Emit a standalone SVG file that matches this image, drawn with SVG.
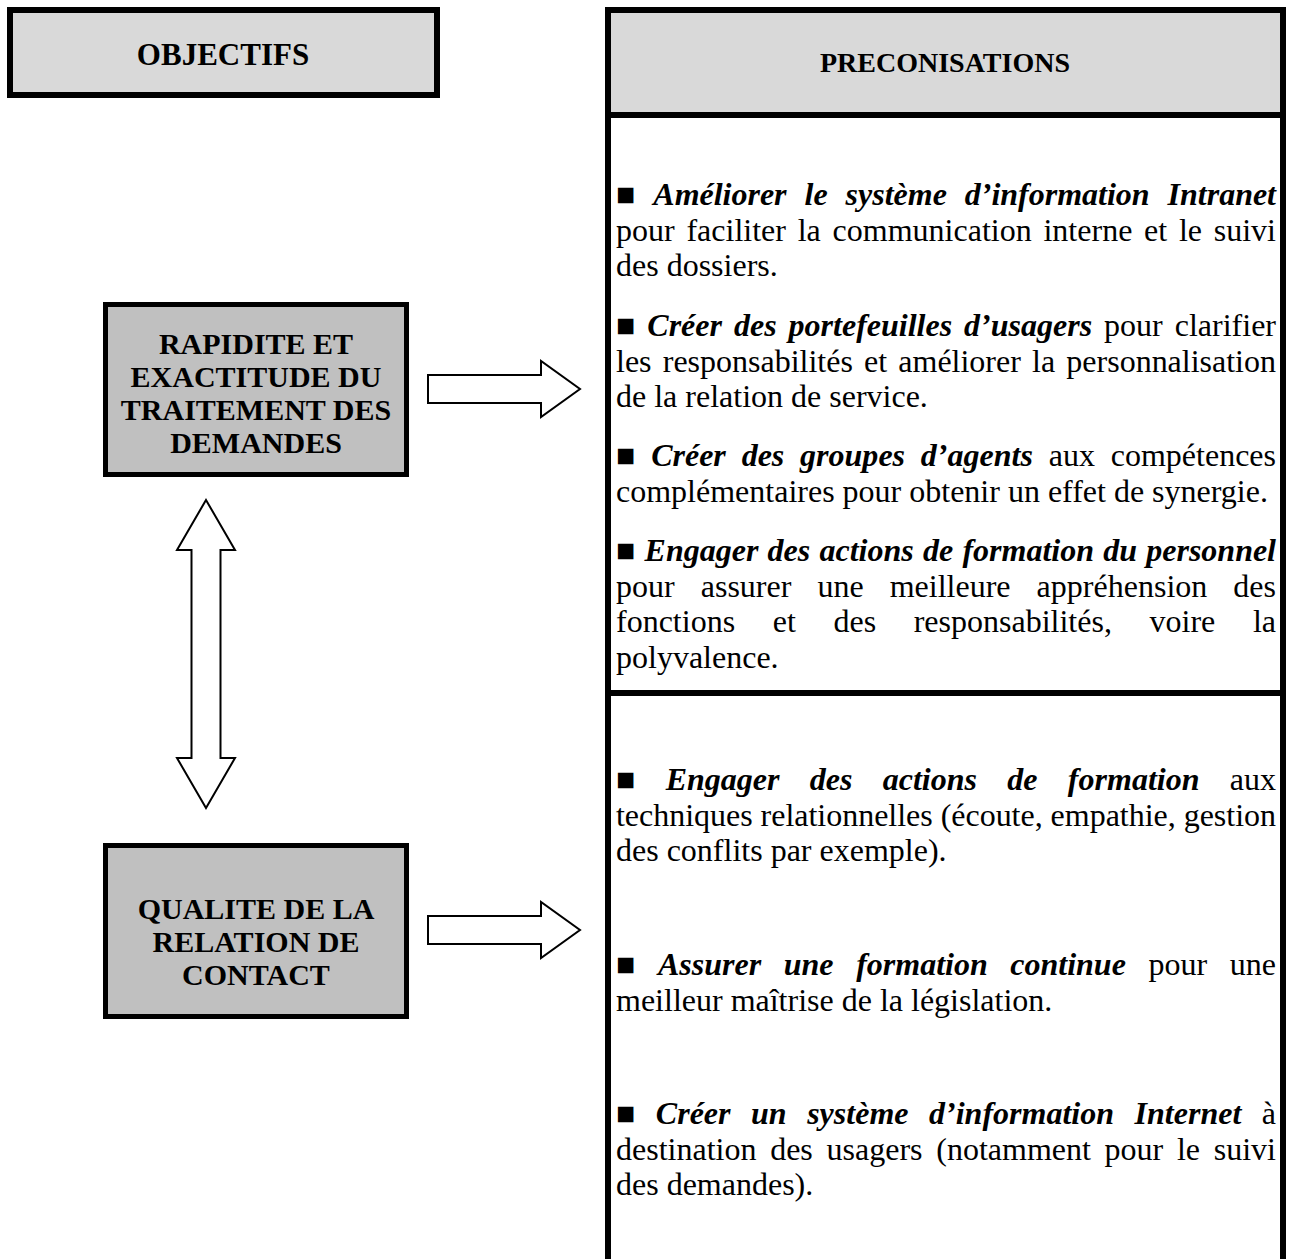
<svg xmlns="http://www.w3.org/2000/svg" width="1291" height="1259" viewBox="0 0 1291 1259">
<style>
  .frame{fill:none;stroke:#000;stroke-width:6}
  .hdrbox{fill:#d9d9d9;stroke:#000;stroke-width:6}
  .objbox{fill:#c0c0c0;stroke:#000;stroke-width:5}
  .arrow{fill:#fff;stroke:#000;stroke-width:2;stroke-linejoin:miter}
  text{font-family:"Liberation Serif","Times New Roman",serif;fill:#000}
  .hdr{font-weight:bold;text-anchor:middle}
  .obj{font-size:30px;font-weight:bold;text-anchor:middle}
  .t{font-size:32px}
  .bi{font-weight:bold;font-style:italic}
</style>
<rect width="1291" height="1259" fill="#fff"/>

<g id="objectifs-header">
  <rect class="hdrbox" x="10" y="10" width="427" height="85"/>
  <text class="hdr" x="223" y="65" font-size="31">OBJECTIFS</text>
</g>

<g id="preconisations-header">
  <rect class="hdrbox" x="608" y="10" width="675" height="105"/>
  <text class="hdr" x="945" y="72" font-size="28">PRECONISATIONS</text>
</g>

<g id="preconisations-frame">
  <path class="frame" d="M608,115 V1262 M1283,115 V1262 M608,693 H1283"/>
</g>

<g id="rapidite">
  <rect class="objbox" x="105.5" y="304.5" width="301" height="170"/>
  <text class="obj" x="256" y="354">RAPIDITE ET</text>
  <text class="obj" x="256" y="387">EXACTITUDE DU</text>
  <text class="obj" x="256" y="420">TRAITEMENT DES</text>
  <text class="obj" x="256" y="453">DEMANDES</text>
</g>

<g id="qualite">
  <rect class="objbox" x="105.5" y="845.5" width="301" height="171"/>
  <text class="obj" x="256" y="919">QUALITE DE LA</text>
  <text class="obj" x="256" y="952">RELATION DE</text>
  <text class="obj" x="256" y="985">CONTACT</text>
</g>

<g id="connectors">
  <polygon class="arrow" points="428,375 541,375 541,361 580,389 541,417 541,403 428,403"/>
  <polygon class="arrow" points="428,916 541,916 541,902 580,930 541,958 541,944 428,944"/>
  <polygon class="arrow" points="206,500 235,550 220.5,550 220.5,758 235,758 206,808 177,758 191.5,758 191.5,550 177,550"/>
</g>

<g id="preconisations-rapidite">
  <text class="t" x="616" y="205" textLength="660" lengthAdjust="spacing" word-spacing="10">■ <tspan class="bi">Améliorer le système d’information Intranet</tspan></text>
  <text class="t" x="616" y="240.5" textLength="660" lengthAdjust="spacing" word-spacing="3.7">pour faciliter la communication interne et le suivi</text>
  <text class="t" x="616" y="276">des dossiers.</text>

  <text class="t" x="616" y="336" textLength="660" lengthAdjust="spacing" word-spacing="4">■ <tspan class="bi">Créer des portefeuilles d’usagers</tspan> pour clarifier</text>
  <text class="t" x="616" y="371.5" textLength="660" lengthAdjust="spacing" word-spacing="3.2">les responsabilités et améliorer la personnalisation</text>
  <text class="t" x="616" y="407">de la relation de service.</text>

  <text class="t" x="616" y="466" textLength="660" lengthAdjust="spacing" word-spacing="7.8">■ <tspan class="bi">Créer des groupes d’agents</tspan> aux compétences</text>
  <text class="t" x="616" y="501.5">complémentaires pour obtenir un effet de synergie.</text>

  <text class="t" x="616" y="561" textLength="660" lengthAdjust="spacing" word-spacing="1.3">■ <tspan class="bi">Engager des actions de formation du personnel</tspan></text>
  <text class="t" x="616" y="596.5" textLength="660" lengthAdjust="spacing" word-spacing="18">pour assurer une meilleure appréhension des</text>
  <text class="t" x="616" y="632" textLength="660" lengthAdjust="spacing" word-spacing="29.6">fonctions et des responsabilités, voire la</text>
  <text class="t" x="616" y="667.5">polyvalence.</text>
</g>

<g id="preconisations-qualite">
  <text class="t" x="616" y="790" textLength="660" lengthAdjust="spacing" word-spacing="22.3">■ <tspan class="bi">Engager des actions de formation</tspan> aux</text>
  <text class="t" x="616" y="825.5" textLength="660" lengthAdjust="spacing">techniques relationnelles (écoute, empathie, gestion</text>
  <text class="t" x="616" y="861">des conflits par exemple).</text>

  <text class="t" x="616" y="975" textLength="660" lengthAdjust="spacing" word-spacing="14.7">■ <tspan class="bi">Assurer une formation continue</tspan> pour une</text>
  <text class="t" x="616" y="1010.5">meilleur maîtrise de la législation.</text>

  <text class="t" x="616" y="1124" textLength="660" lengthAdjust="spacing" word-spacing="12.5">■ <tspan class="bi">Créer un système d’information Internet</tspan> à</text>
  <text class="t" x="616" y="1159.5" textLength="660" lengthAdjust="spacing" word-spacing="5.7">destination des usagers (notamment pour le suivi</text>
  <text class="t" x="616" y="1195">des demandes).</text>
</g>
</svg>
